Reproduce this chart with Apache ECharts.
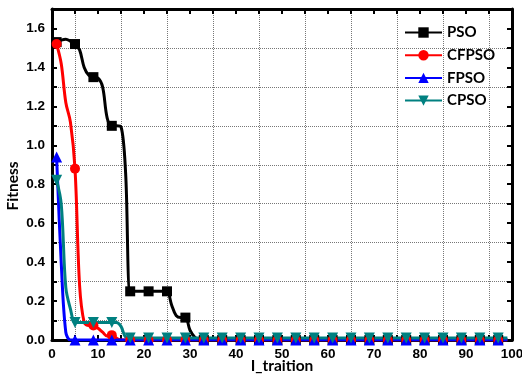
<!DOCTYPE html>
<html>
<head>
<meta charset="utf-8">
<script src="https://cdn.jsdelivr.net/npm/echarts@6/dist/echarts.min.js"></script>
<style>
  html, body { margin: 0; padding: 0; background: #fff; }
  #chart { width: 522px; height: 378px; }
</style>
</head>
<body>
<div id="chart"></div>
<script>
// iteration numbers (markers sit on every 4th one: 1, 5, 9, ...)
const iters = [
  1, 2, 3, 4, 5, 6, 7, 8, 9, 10, 11, 12, 13, 14, 15, 16, 17, 18, 19, 20,
  21, 22, 23, 24, 25, 26, 27, 28, 29, 30, 31, 32, 33,
  37, 41, 45, 49, 53, 57, 61, 65, 69, 73, 77, 81, 85, 89, 93, 97, 99
];

const pso = [
  1.53, 1.54, 1.545, 1.535, 1.52, 1.49, 1.40, 1.36, 1.35, 1.345, 1.30, 1.14, 1.10, 1.10, 1.095, 0.86, 0.25, 0.25, 0.25, 0.25,
  0.25, 0.25, 0.25, 0.25, 0.25, 0.18, 0.125, 0.115, 0.115, 0.05, 0.015, 0, 0,
  0, 0, 0, 0, 0, 0, 0, 0, 0, 0, 0, 0, 0, 0, 0, 0, 0
];

const cfpso = [
  1.52, 1.42, 1.22, 1.12, 0.88, 0.28, 0.09, 0.075, 0.075, 0.06, 0.04, 0.02, 0.025, 0.01, 0, 0, 0, 0, 0, 0,
  0, 0, 0, 0, 0, 0, 0, 0, 0, 0, 0, 0, 0,
  0, 0, 0, 0, 0, 0, 0, 0, 0, 0, 0, 0, 0, 0, 0, 0, 0
];

const fpso = [
  0.94, 0.40, 0.04, 0, 0, 0, 0, 0, 0, 0, 0, 0, 0, 0, 0, 0, 0, 0, 0, 0,
  0, 0, 0, 0, 0, 0, 0, 0, 0, 0, 0, 0, 0,
  0, 0, 0, 0, 0, 0, 0, 0, 0, 0, 0, 0, 0, 0, 0, 0, 0
];

const cpso = [
  0.82, 0.70, 0.27, 0.16, 0.09, 0.09, 0.09, 0.09, 0.09, 0.09, 0.09, 0.09, 0.09, 0.09, 0.07, 0.015, 0.01, 0.01, 0.01, 0.01,
  0.01, 0.01, 0.01, 0.01, 0.01, 0.01, 0.01, 0.01, 0.01, 0.01, 0.01, 0.01, 0.01,
  0.01, 0.01, 0.01, 0.01, 0.01, 0.01, 0.01, 0.01, 0.01, 0.01, 0.01, 0.01, 0.01, 0.01, 0.01, 0.01, 0.01
];

// 0.0 .. 1.7 in 0.1 steps, used for the minor ticks and the dotted grid
const yTicks = ['0.0', '0.1', '0.2', '0.3', '0.4', '0.5', '0.6', '0.7', '0.8',
  '0.9', '1.0', '1.1', '1.2', '1.3', '1.4', '1.5', '1.6', '1.7'];

const chart = echarts.init(document.getElementById('chart'));

const tickFont = { fontFamily: 'Liberation Sans', fontWeight: 'bold', fontSize: 13.5, color: '#000' };
const titleFont = { fontFamily: 'Lato', fontWeight: 'bold', fontSize: 15.5, color: '#000' };

function pts(ys) {
  return iters.map((x, i) => {
    const item = { value: [x, ys[i]] };
    if ((x - 1) % 4 !== 0) item.symbol = 'none';
    return item;
  });
}

function line(name, ys, color, symbol, size, rotate) {
  return {
    name,
    type: 'line',
    data: pts(ys),
    smooth: 0.35,
    symbol,
    symbolSize: size,
    symbolRotate: rotate || 0,
    lineStyle: { color, width: 3 },
    itemStyle: { color, borderWidth: 0 },
    emphasis: { disabled: true }
  };
}

chart.setOption({
  animation: false,
  backgroundColor: '#fff',
  grid: { left: 52, right: 10, top: 9, bottom: 38, outerBoundsMode: 'none', containLabel: false },
  legend: {
    orient: 'vertical',
    left: 404,
    top: 25,
    padding: 0,
    itemWidth: 37,
    itemHeight: 13,
    itemGap: 7.7,
    textStyle: { fontFamily: 'Lato', fontWeight: 'bold', fontSize: 15, color: '#000', lineHeight: 13 },
    data: ['PSO', 'CFPSO', 'FPSO', 'CPSO']
  },
  xAxis: [
    {
      type: 'value',
      min: 0, max: 100, interval: 10,
      name: 'I_traition',
      nameLocation: 'middle',
      nameGap: 18,
      nameMoveOverlap: false,
      nameTextStyle: titleFont,
      axisLine: { show: true, onZero: false, lineStyle: { color: '#000', width: 3 } },
      axisTick: { show: true, inside: true, length: 5, lineStyle: { color: '#000', width: 2 } },
      minorTick: { show: true, splitNumber: 2, length: 5, lineStyle: { color: '#000', width: 2 } },
      axisLabel: Object.assign({ margin: 7 }, tickFont),
      splitLine: { show: false },
      minorSplitLine: { show: true, lineStyle: { color: '#777', type: 'dotted', width: 1 } }
    },
    {
      type: 'value',
      position: 'top',
      min: 0, max: 100, interval: 10,
      axisLine: { show: true, onZero: false, lineStyle: { color: '#000', width: 3 } },
      axisTick: { show: true, inside: true, length: 5, lineStyle: { color: '#000', width: 2 } },
      minorTick: { show: true, splitNumber: 2, length: 5, lineStyle: { color: '#000', width: 2 } },
      axisLabel: { show: false },
      splitLine: { show: false }
    }
  ],
  yAxis: [
    {
      type: 'value',
      min: 0, max: 1.7, interval: 0.2,
      name: 'Fitness',
      nameLocation: 'middle',
      nameGap: 31,
      nameMoveOverlap: false,
      nameTextStyle: Object.assign({ padding: [0, 23, 0, 0] }, titleFont),
      axisLine: { show: true, onZero: false, lineStyle: { color: '#000', width: 3 } },
      axisTick: { show: false },
      axisLabel: Object.assign({ margin: 7, showMaxLabel: false, formatter: v => v.toFixed(1) }, tickFont),
      splitLine: { show: false }
    },
    {
      type: 'category',
      position: 'left',
      data: yTicks,
      boundaryGap: false,
      axisLine: { show: false },
      axisTick: { show: true, inside: true, interval: 0, length: 5, lineStyle: { color: '#000', width: 2 } },
      axisLabel: { show: false },
      splitLine: {
        show: true,
        interval: (i) => i % 2 === 1 && i < yTicks.length - 1,
        lineStyle: { color: '#777', type: 'dotted', width: 1 }
      }
    },
    {
      type: 'category',
      position: 'right',
      data: yTicks,
      boundaryGap: false,
      axisLine: { show: true, onZero: false, lineStyle: { color: '#000', width: 3 } },
      axisTick: { show: true, inside: true, interval: 0, length: 5, lineStyle: { color: '#000', width: 2 } },
      axisLabel: { show: false },
      splitLine: { show: false }
    }
  ],
  series: [
    line('PSO', pso, '#000000', 'rect', 10),
    line('CFPSO', cfpso, '#ff0000', 'circle', 10),
    line('FPSO', fpso, '#0000ff', 'triangle', 11),
    line('CPSO', cpso, '#008080', 'triangle', 11, 180)
  ]
});
</script>
</body>
</html>
